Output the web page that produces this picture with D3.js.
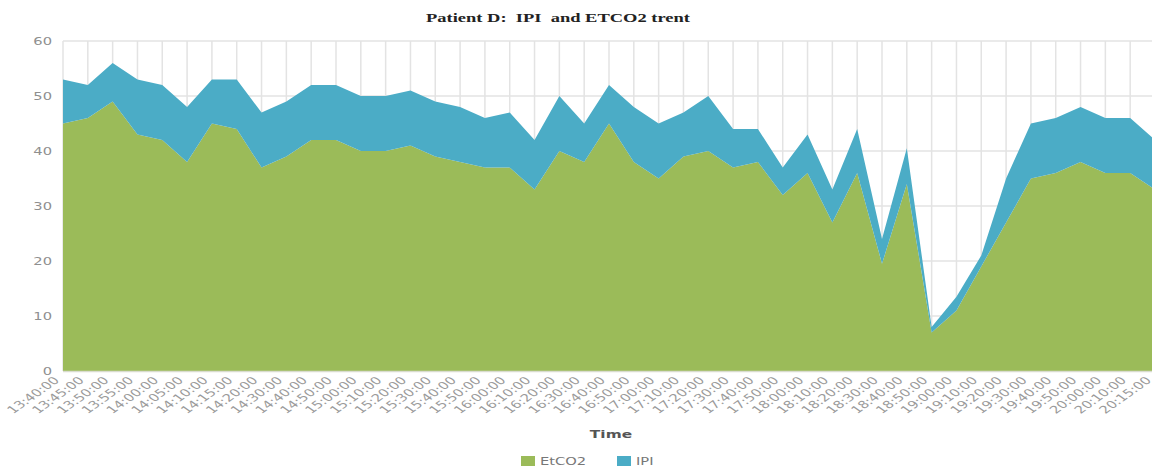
<!DOCTYPE html>
<html>
<head>
<meta charset="utf-8">
<script src="https://cdn.jsdelivr.net/npm/d3@7"></script>
<style>
  html, body { margin: 0; padding: 0; background: #fff; overflow: hidden; }
  svg { display: block; }
</style>
</head>
<body>
<div id="chart"></div>
<script>
const times = [
  '13:40:00', '13:45:00', '13:50:00', '13:55:00', '14:00:00', '14:05:00', '14:10:00', '14:15:00',
  '14:20:00', '14:30:00', '14:40:00', '14:50:00', '15:00:00', '15:10:00', '15:20:00', '15:30:00',
  '15:40:00', '15:50:00', '16:00:00', '16:10:00', '16:20:00', '16:30:00', '16:40:00', '16:50:00',
  '17:00:00', '17:10:00', '17:20:00', '17:30:00', '17:40:00', '17:50:00', '18:00:00', '18:10:00',
  '18:20:00', '18:30:00', '18:40:00', '18:50:00', '19:00:00', '19:10:00', '19:20:00', '19:30:00',
  '19:40:00', '19:50:00', '20:00:00', '20:10:00', '20:15:00',
];
const etco2 = [
  45, 46, 49, 43, 42, 38, 45, 44, 37, 39, 42, 42, 40, 40, 41, 39,
  38, 37, 37, 33, 40, 38, 45, 38, 35, 39, 40, 37, 38, 32, 36, 27,
  36, 19.5, 34, 7, 11, 19, 27, 35, 36, 38, 36, 36, 33,
];
const ipi = [
  8, 6, 7, 10, 10, 10, 8, 9, 10, 10, 10, 10, 10, 10, 10, 10,
  10, 9, 10, 9, 10, 7, 7, 10, 10, 8, 10, 7, 6, 5, 7, 6,
  8, 4.5, 6.5, 1, 2.5, 2, 8, 10, 10, 10, 10, 10, 9,
];
const seriesNames = ['EtCO2', 'IPI'];
const seriesColors = ['#9bbb59', '#4bacc6'];
const yTicks = [0, 10, 20, 30, 40, 50, 60];

// the source picture is stretched sideways, so text gets the same stretch
const STRETCH = 1.4;

class StackedAreaChart {
  constructor(elem) {
    this.width = 1152;
    this.height = 466;
    this.plot = { left: 63, right: 1155, top: 41, bottom: 371 };

    this.svg = d3.select(elem).append('svg')
      .attr('width', this.width)
      .attr('height', this.height);

    this.createScales();
    this.createGrid();
    this.createAreas();
    this.createAxes();
    this.createTitles();
    this.createLegend();
  }

  createScales() {
    this.x = d3.scalePoint()
      .domain(times)
      .range([this.plot.left, this.plot.right]);
    this.y = d3.scaleLinear()
      .domain([0, 60])
      .range([this.plot.bottom, this.plot.top]);
  }

  createGrid() {
    const grid = this.svg.append('g').attr('class', 'grid');
    grid.selectAll('.hline')
      .data(yTicks)
      .enter()
      .append('line')
      .attr('x1', this.plot.left)
      .attr('x2', this.width)
      .attr('y1', (d) => this.y(d))
      .attr('y2', (d) => this.y(d))
      .attr('stroke', '#e3e3e3')
      .attr('stroke-width', 1.5);
    grid.selectAll('.vline')
      .data(times)
      .enter()
      .append('line')
      .attr('x1', (d) => this.x(d))
      .attr('x2', (d) => this.x(d))
      .attr('y1', this.plot.top)
      .attr('y2', this.plot.bottom)
      .attr('stroke', '#e3e3e3')
      .attr('stroke-width', 1.5);
  }

  createAreas() {
    const rows = times.map((t, i) => ({ time: t, EtCO2: etco2[i], IPI: ipi[i] }));
    const stacked = d3.stack().keys(seriesNames)(rows);
    const area = d3.area()
      .x((d) => this.x(d.data.time))
      .y0((d) => this.y(d[0]))
      .y1((d) => this.y(d[1]));

    this.svg.append('g')
      .selectAll('path')
      .data(stacked)
      .enter()
      .append('path')
      .attr('d', area)
      .attr('fill', (d, i) => seriesColors[i]);

    this.svg.append('line')
      .attr('x1', this.plot.left)
      .attr('x2', this.width)
      .attr('y1', this.plot.bottom + 0.5)
      .attr('y2', this.plot.bottom + 0.5)
      .attr('stroke', '#d9dccf')
      .attr('stroke-width', 1.5);
  }

  createAxes() {
    this.svg.append('g')
      .selectAll('text')
      .data(yTicks)
      .enter()
      .append('text')
      .attr('transform', (d) => `translate(52,${this.y(d) + 4}) scale(${STRETCH},1)`)
      .attr('text-anchor', 'end')
      .attr('font-family', 'DejaVu Sans, sans-serif')
      .attr('font-size', 10.5)
      .attr('fill', '#8f8f8f')
      .text((d) => d);

    this.svg.append('g')
      .selectAll('text')
      .data(times)
      .enter()
      .append('text')
      .attr('transform', (d) => `translate(${this.x(d) - 3},${this.plot.bottom + 10}) scale(${STRETCH},1) rotate(-45)`)
      .attr('text-anchor', 'end')
      .attr('font-family', 'DejaVu Sans, sans-serif')
      .attr('font-size', 10.5)
      .attr('fill', '#9a9a9a')
      .text((d) => d);
  }

  createTitles() {
    this.svg.append('text')
      .attr('x', 558)
      .attr('y', 22)
      .attr('text-anchor', 'middle')
      .attr('font-family', 'Liberation Serif, serif')
      .attr('font-weight', 'bold')
      .attr('font-size', 13)
      .attr('fill', '#222')
      .attr('textLength', 264)
      .attr('lengthAdjust', 'spacingAndGlyphs')
      .style('white-space', 'pre')
      .text('Patient D:  IPI  and ETCO2 trent');

    this.svg.append('text')
      .attr('transform', `translate(611,438) scale(${STRETCH},1)`)
      .attr('text-anchor', 'middle')
      .attr('font-family', 'DejaVu Sans, sans-serif')
      .attr('font-weight', 'bold')
      .attr('font-size', 11)
      .attr('fill', '#555')
      .text('Time');
  }

  createLegend() {
    const items = [
      { name: seriesNames[0], color: seriesColors[0], x: 521 },
      { name: seriesNames[1], color: seriesColors[1], x: 617 },
    ];
    const legend = this.svg.append('g');
    const item = legend.selectAll('g')
      .data(items)
      .enter()
      .append('g')
      .attr('transform', (d) => `translate(${d.x},456)`);
    item.append('rect')
      .attr('width', 14)
      .attr('height', 10)
      .attr('fill', (d) => d.color);
    item.append('text')
      .attr('transform', `translate(19,9) scale(${STRETCH},1)`)
      .attr('font-family', 'DejaVu Sans, sans-serif')
      .attr('font-size', 10.5)
      .attr('fill', '#777')
      .text((d) => d.name);
  }
}

new StackedAreaChart('#chart');
</script>
</body>
</html>
